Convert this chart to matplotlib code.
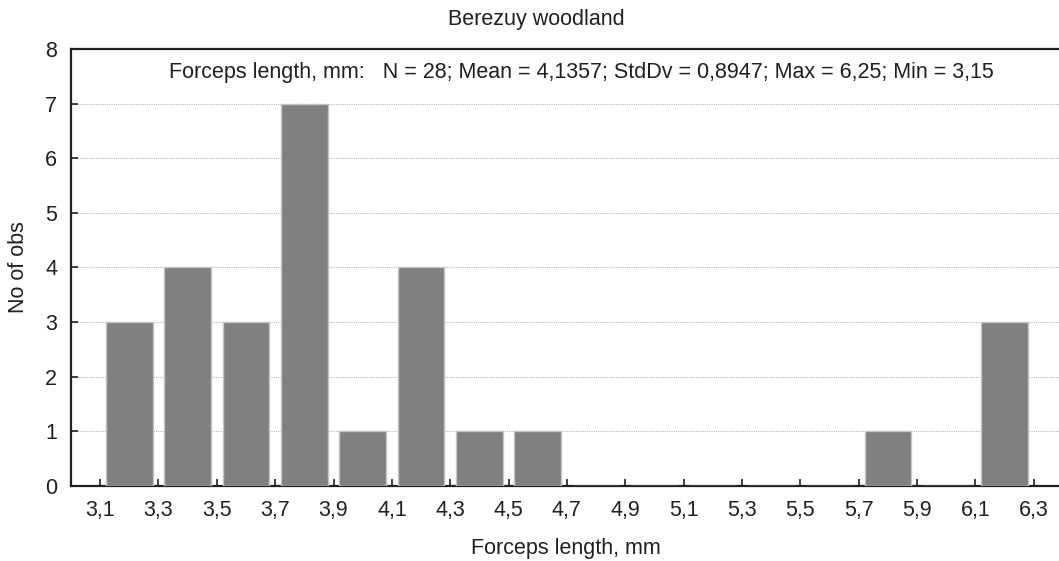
import numpy as np
import matplotlib.pyplot as plt

plt.rcParams['font.family'] = ['Liberation Sans', 'DejaVu Sans']

# histogram of forceps length, bins of 0.2 mm starting at 3.1
bin_left = [3.1, 3.3, 3.5, 3.7, 3.9, 4.1, 4.3, 4.5, 4.7, 4.9, 5.1, 5.3, 5.5, 5.7, 5.9, 6.1]
counts = [3, 4, 3, 7, 1, 4, 1, 1, 0, 0, 0, 0, 0, 1, 0, 3]
bin_width = 0.2

tick_values = [3.1, 3.3, 3.5, 3.7, 3.9, 4.1, 4.3, 4.5, 4.7, 4.9, 5.1, 5.3, 5.5, 5.7, 5.9, 6.1, 6.3]
tick_labels = [f"{v:.1f}".replace(".", ",") for v in tick_values]

stats_text = ("Forceps length, mm:   N = 28; Mean = 4,1357; StdDv = 0,8947; "
              "Max = 6,25; Min = 3,15")

fs = 15.5
ink = "#202020"

fig = plt.figure(figsize=(10.59, 5.61), dpi=100)
ax = fig.add_axes([0.067, 0.1337, 0.9367, 0.779])

centers = np.array(bin_left) + bin_width / 2
ax.bar(centers, counts, width=bin_width * 0.8, color="#808080",
       edgecolor="#c4c4c4", linewidth=1.0, zorder=3)

ax.set_xlim(3.0, 6.4)
ax.set_ylim(0, 8)
ax.set_xticks(tick_values)
ax.set_xticklabels(tick_labels)
ax.set_yticks(range(0, 9))

ax.grid(axis="y", linestyle=(0, (1, 1)), color="#b8b8b8", linewidth=0.8, zorder=0)

for side in ("left", "bottom", "top"):
    ax.spines[side].set_linewidth(1.6)
    ax.spines[side].set_color(ink)
ax.spines["right"].set_visible(False)

ax.tick_params(axis="x", direction="in", length=5, width=1.2, pad=10,
               labelsize=fs, colors=ink)
ax.tick_params(axis="y", direction="in", length=5, width=1.2, pad=10,
               labelsize=fs, colors=ink)

ax.text(4.75, 7.57, stats_text, ha="center", va="center", fontsize=fs,
        color=ink)

fig.text(0.506, 0.966, "Berezuy woodland", ha="center", va="center",
         fontsize=fs, color=ink)
fig.text(0.534, 0.023, "Forceps length, mm", ha="center", va="center",
         fontsize=fs, color=ink)
fig.text(0.017, 0.524, "No of obs", ha="center", va="center", rotation=90,
         fontsize=fs, color=ink)

fig.savefig("out.png", dpi=100)
